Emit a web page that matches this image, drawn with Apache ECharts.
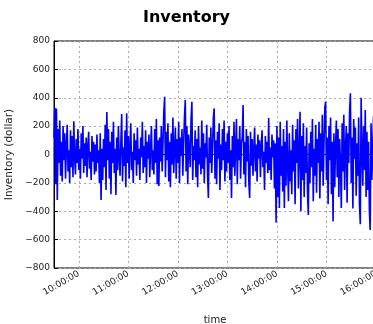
<!DOCTYPE html>
<html>
<head>
<meta charset="utf-8">
<script src="https://cdn.jsdelivr.net/npm/echarts@6/dist/echarts.min.js"></script>
<style>
html,body{margin:0;padding:0;background:#fff;}
#c{width:373px;height:324px;}
</style>
</head>
<body>
<div id="c"></div>
<script>
// time range: one sample per minute from 09:30 to 16:00
const startTime = '09:30';
const endTime = '16:00';
const tickLabels = ['10:00:00','11:00:00','12:00:00','13:00:00','14:00:00','15:00:00','16:00:00'];
const yTicks = [-800,-600,-400,-200,0,200,400,600,800];
const inventory = [
  120, 330, -210, 325, -320, 180, -60, 240, -150, 90,
  -190, 200, -40, 150, -170, 60, 210, -120, 30, -200,
  170, -90, 130, -160, 235, -20, -140, 110, -60, 180,
  -110, 40, -170, 150, -30, 200, -130, 80, -80, 120,
  -160, 60, 160, -100, 20, -180, 130, -50, 90, -140,
  70, -120, 140, -60, 30, -200, 150, -320, 40, -180,
  110, -90, 210, -250, 300, -40, 180, -170, 90, -280,
  160, -60, 230, -130, 40, -285, 120, -110, 200, -20,
  -150, 90, 285, -190, 50, -80, 170, -230, 290, -60,
  130, -170, 60, 220, -110, 20, -200, 150, -40, 100,
  -150, 190, -70, 40, -180, 120, -20, 230, -130, 60,
  -90, 170, -200, 90, -30, 140, -160, 50, 200, -110,
  30, -140, 180, -60, 250, -210, 100, -222, 120, -50,
  200, -120, 80, 300, 407, -160, 160, -40, 220, -190,
  90, -230, 150, -70, 260, -130, 40, 190, -170, 110,
  -60, 230, -200, 120, -10, 180, -150, 70, 260, 384,
  -120, 200, -210, 140, 30, -90, 250, 372, -180, 60,
  -40, 170, -160, 110, -230, 200, -70, 50, -140, 240,
  -100, 150, -200, 80, -20, 210, -150, -307, 120, -60,
  190, -130, 40, 260, 325, -170, 100, -210, 160, -30,
  220, -250, 70, -110, 180, -40, 240, -190, 90, -120,
  150, -60, 200, -180, 30, -307, 130, -90, 230, -150,
  60, 250, -210, 110, -40, 200, -170, 80, 120, 349,
  -140, 90, -230, 180, -50, 130, -200, -307, 160, -80,
  110, -150, 40, 190, -120, 70, -190, 140, -30, 100,
  -160, 60, 170, -90, 20, -250, 130, -60, 90, -130,
  257, -110, 50, -180, 140, -20, 100, -240, 80, -480,
  200, -300, 120, -377, 230, -150, 60, -260, 180, -377,
  90, -220, 240, -80, -330, 150, -190, 30, -280, 210,
  -120, 100, -350, 180, -60, 250, -240, 20, 302, -400,
  130, -180, 220, -300, 60, -130, 190, -250, -426, 80,
  -200, 160, -90, 250, -330, 40, -150, 210, -270, 110,
  -60, 230, -310, 150, -120, 280, -220, 70, 330, 372,
  -180, 120, -350, 200, -40, 260, -280, 90, -473, 150,
  -230, 60, 240, -160, 180, -300, 110, -80, -377, 220,
  -120, 280, -250, 40, 200, -340, 150, -60, 300, 431,
  -200, 120, -380, 250, -30, 190, -290, 80, -150, 260,
  -350, -492, 400, 30, -220, 200, -110, 313, -300, 160,
  -250, 90, -400, -532, 220, -180, 50, 270, -330, 120,
  -100
];

function toMin(s){const p=s.split(':');return (+p[0])*60+(+p[1]);}
function pad(n){return (n<10?'0':'')+n;}
const categories = [];
for (let m = toMin(startTime); m <= toMin(endTime); m++) {
  categories.push(pad(Math.floor(m/60)) + ':' + pad(m%60) + ':00');
}
const isTick = (i, v) => tickLabels.indexOf(v !== undefined ? v : categories[i]) >= 0;

const chart = echarts.init(document.getElementById('c'), null, {renderer:'canvas'});
const font = 'DejaVu Sans';
chart.setOption({
  animation: false,
  title: {
    text: 'Inventory', left: 'center', top: 5,
    textStyle: {fontFamily: font, fontWeight: 'bold', fontSize: 16, color: '#000'}
  },
  grid: {left: 54, top: 41, width: 322, height: 227, containLabel: false, outerBoundsMode: 'none',
    show: true, borderColor: '#000', borderWidth: 1, backgroundColor: 'transparent'},
  xAxis: {
    type: 'category', data: categories, boundaryGap: false,
    name: 'time', nameLocation: 'middle', nameGap: 47,
    nameTextStyle: {fontFamily: font, fontSize: 10, color: '#222'},
    axisLine: {lineStyle: {color: '#000', width: 1}},
    axisTick: {inside: true, length: 4, interval: isTick, lineStyle: {color: '#000'}},
    axisLabel: {interval: isTick, rotate: 30, fontFamily: font, fontSize: 9, color: '#222', margin: 5},
    splitLine: {show: true, interval: isTick, lineStyle: {type: [2, 3], color: '#aaa', width: 1}}
  },
  yAxis: {
    type: 'value', min: yTicks[0], max: yTicks[yTicks.length-1], interval: 200,
    name: 'Inventory (dollar)', nameLocation: 'middle', nameGap: 32,
    nameTextStyle: {fontFamily: font, fontSize: 10.5, color: '#222'},
    axisLine: {show: true, lineStyle: {color: '#000', width: 1}},
    axisTick: {show: true, inside: true, length: 4, lineStyle: {color: '#000'}},
    axisLabel: {fontFamily: font, fontSize: 9, color: '#222', margin: 4,
      formatter: v => String(v).replace('-', '\u2212')},
    splitLine: {show: true, lineStyle: {type: [2, 3], color: '#aaa', width: 1}}
  },
  series: [{
    type: 'line', data: inventory, showSymbol: false, symbol: 'none',
    lineStyle: {color: '#0000ff', width: 1.6}, itemStyle: {color: '#0000ff'}
  }]
});
</script>
</body>
</html>
